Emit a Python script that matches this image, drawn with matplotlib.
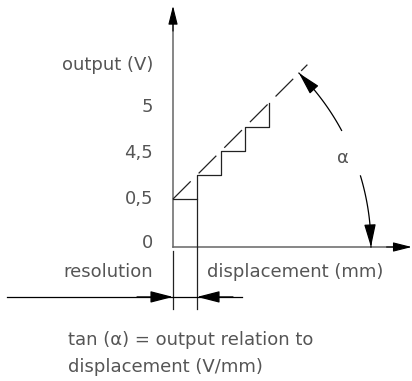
import numpy as np
import matplotlib
matplotlib.use("Agg")
import matplotlib.pyplot as plt

# diagram units: one resolution step = 1
step_x = [0, 1, 2, 3, 4]
step_y = [2, 3, 4, 5, 6]
ideal_x = [0, 5.6]
ideal_y = [2, 7.6]

tick_pos = [0.17, 2.0, 3.9, 5.83, 7.6]
tick_labels = ["0", "0,5", "4,5", "5", "output (V)"]

arc_center = (-2.0, 0.0)
arc_radius = 10.25
arc_upper = (28.3, 45.0)   # degrees
arc_lower = (0.0, 16.8)

TXT = "#555555"
LN = "#222222"
AX = "#666666"
FS = 13

fig = plt.figure(figsize=(4.12, 3.81), dpi=100)
ax = fig.add_axes([0, 0, 1, 1])
ax.set_xlim(-7.21, 9.96)
ax.set_ylim(-5.58, 10.29)
ax.set_aspect("equal")
ax.axis("off")

axis_head = dict(arrowstyle="-|>,head_length=1.15,head_width=0.29", color="k",
                 lw=0.8, shrinkA=0, shrinkB=0, mutation_scale=10)
big_head = dict(arrowstyle="-|>,head_length=1.4,head_width=0.36", color="k",
                lw=0.9, shrinkA=0, shrinkB=0, mutation_scale=10)

# axes: grey lines with black arrow heads
ax.plot([0, 0], [0, 9.6], color=AX, lw=1.1)
ax.plot([0, 9.5], [0, 0], color=AX, lw=1.1)
ax.annotate("", xy=(0, 10.05), xytext=(0, 9.0), arrowprops=axis_head)
ax.annotate("", xy=(9.95, 0), xytext=(8.9, 0), arrowprops=axis_head)

# staircase and ideal line
ax.plot(step_x, step_y, drawstyle="steps-post", color=LN, lw=0.9)
ax.plot(ideal_x, ideal_y, color=LN, lw=0.9, linestyle=(0, (20, 9)))

# extension lines for resolution
ax.plot([0, 0], [-0.15, -2.58], color=LN, lw=0.9)
ax.plot([1, 1], [2, -2.58], color=LN, lw=0.9)

# dimension line with arrows
dim_y = -2.08
ax.plot([-6.9, 2.875], [dim_y, dim_y], color="k", lw=0.9)
ax.annotate("", xy=(0, dim_y), xytext=(-1.5, dim_y), arrowprops=big_head)
ax.annotate("", xy=(1, dim_y), xytext=(2.5, dim_y), arrowprops=big_head)

# angle arc
cx, cy = arc_center
for a0, a1, tip in [(arc_upper[0], arc_upper[1], arc_upper[1]),
                    (arc_lower[0], arc_lower[1], arc_lower[0])]:
    t = np.radians(np.linspace(a0, a1, 60))
    ax.plot(cx + arc_radius * np.cos(t), cy + arc_radius * np.sin(t), color="k", lw=0.9)
    back = tip - 5 if tip == a1 else tip + 5
    ax.annotate("", xy=(cx + arc_radius * np.cos(np.radians(tip)),
                        cy + arc_radius * np.sin(np.radians(tip))),
                xytext=(cx + arc_radius * np.cos(np.radians(back)),
                        cy + arc_radius * np.sin(np.radians(back))),
                arrowprops=big_head)
ax.text(7.08, 3.71, "α", color=TXT, fontsize=FS, ha="center", va="center")

# labels
for p, lab in zip(tick_pos, tick_labels):
    ax.text(-0.83, p, lab, color=TXT, fontsize=FS, ha="right", va="center")
ax.text(-0.83, -1.04, "resolution", color=TXT, fontsize=FS, ha="right", va="center")
ax.text(1.42, -1.04, "displacement (mm)", color=TXT, fontsize=FS, ha="left", va="center")
ax.text(-4.375, -3.875, "tan (α) = output relation to", color=TXT, fontsize=FS,
        ha="left", va="center")
ax.text(-4.375, -5.0, "displacement (V/mm)", color=TXT, fontsize=FS, ha="left", va="center")

fig.savefig("out.png", dpi=100)
